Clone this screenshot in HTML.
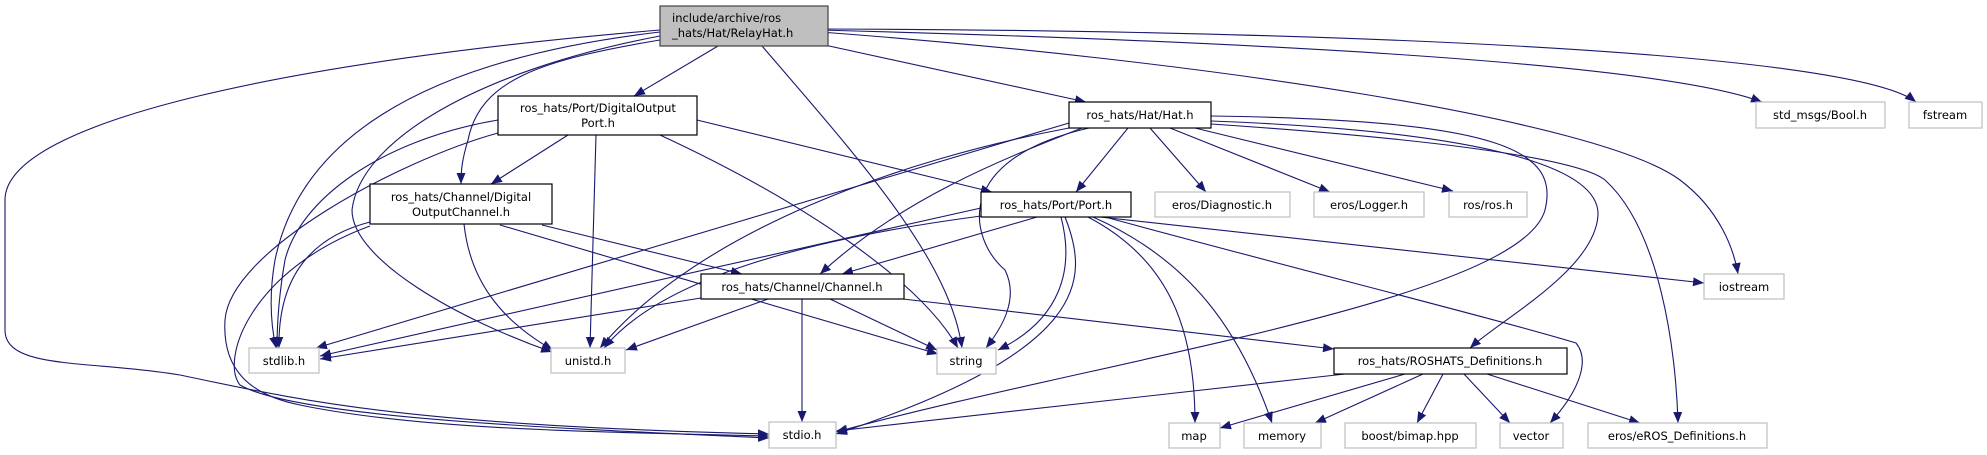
<!DOCTYPE html>
<html><head><meta charset="utf-8"><style>
html,body{margin:0;padding:0;background:#fff;}
svg{display:block}
text{font-family:"DejaVu Sans","Liberation Sans",sans-serif;font-size:11.5px;fill:#000}
.e{fill:none;stroke:#191970;stroke-width:1.1}
.n{fill:#fff;stroke:#000;stroke-width:1.2}
.x{fill:#fff;stroke:#bfbfbf;stroke-width:1.2}
</style></head><body>
<svg width="1987" height="455" viewBox="0 0 1987 455" xmlns="http://www.w3.org/2000/svg">
<defs><marker id="a" markerUnits="userSpaceOnUse" markerWidth="12" markerHeight="10" refX="11" refY="4.5" orient="auto"><path d="M0,0 L11,4.5 L0,9 z" fill="#191970"/></marker></defs>
<g marker-end="url(#a)">
<!-- root edges -->
<path class="e" d="M718,46 L634,96"/>
<path class="e" d="M660,40 C540,60 480,80 468,140 C462,160 461,170 461,184"/>
<path class="e" d="M660,32 C420,60 300,140 275,260 C268,300 272,330 276,348"/>
<path class="e" d="M660,36 C480,70 360,140 352,210 C352,260 460,320 552,352"/>
<path class="e" d="M660,30 C300,60 5,120 5,200 L5,330 C5,370 90,360 180,375 C300,400 400,425 769,434"/>
<path class="e" d="M762,46 C860,160 950,260 962,348"/>
<path class="e" d="M820,44 L1086,102"/>
<path class="e" d="M820,30 C1200,40 1650,60 1762,102"/>
<path class="e" d="M820,29 C1300,30 1850,50 1916,102"/>
<path class="e" d="M820,32 C1200,60 1600,120 1680,180 C1720,210 1734,250 1738,274"/>
<!-- DOP edges -->
<path class="e" d="M568,135 L491,184"/>
<path class="e" d="M596,135 L590,348"/>
<path class="e" d="M498,120 C380,140 300,200 285,260 C278,300 277,330 277,348"/>
<path class="e" d="M498,133 C400,160 230,250 225,320 C222,370 250,395 300,405 C420,430 600,432 769,436"/>
<path class="e" d="M660,135 C800,200 920,280 958,348"/>
<path class="e" d="M697,120 L992,192"/>
<!-- DOC edges -->
<path class="e" d="M370,222 C300,240 278,290 279,348"/>
<path class="e" d="M370,226 C250,270 220,360 240,385 C300,420 600,430 769,438"/>
<path class="e" d="M464,224 C470,280 500,320 553,350"/>
<path class="e" d="M500,225 L938,354"/>
<path class="e" d="M542,225 L742,274"/>
<!-- Hat edges -->
<path class="e" d="M1128,128 L1076,192"/>
<path class="e" d="M1150,128 L1206,192"/>
<path class="e" d="M1170,128 L1330,192"/>
<path class="e" d="M1195,128 L1453,191"/>
<path class="e" d="M1082,128 C1000,160 900,200 820,274"/>
<path class="e" d="M1069,123 L316,348"/>
<path class="e" d="M1069,128 C900,160 700,230 600,348"/>
<path class="e" d="M1089,128 C950,160 970,240 1005,270 C1020,300 1000,330 986,348"/>
<path class="e" d="M1211,116 C1500,120 1560,150 1545,210 C1520,300 1100,360 836,432"/>
<path class="e" d="M1211,121 C1450,130 1600,160 1598,215 C1595,270 1500,320 1470,348"/>
<path class="e" d="M1211,124 C1450,140 1580,160 1605,180 C1660,230 1676,350 1678,423"/>
<!-- Port edges -->
<path class="e" d="M1037,217 L842,274"/>
<path class="e" d="M981,208 L320,356"/>
<path class="e" d="M981,216 C800,240 660,280 604,348"/>
<path class="e" d="M1061,217 C1075,270 1060,320 998,350"/>
<path class="e" d="M1065,217 C1090,280 1090,350 836,434"/>
<path class="e" d="M1088,217 C1170,260 1195,330 1195,423"/>
<path class="e" d="M1093,217 C1190,260 1240,330 1272,423"/>
<path class="e" d="M1100,217 L1704,283"/>
<path class="e" d="M1105,217 C1300,270 1500,320 1576,343 C1590,360 1580,390 1550,423"/>
<!-- Chan edges -->
<path class="e" d="M802,299 L802,422"/>
<path class="e" d="M830,299 L937,350"/>
<path class="e" d="M903,299 L1334,349"/>
<path class="e" d="M701,298 L320,359"/>
<path class="e" d="M768,299 L626,350"/>
<!-- ROSHATS edges -->
<path class="e" d="M1345,374 L836,431"/>
<path class="e" d="M1405,374 L1220,428"/>
<path class="e" d="M1423,374 L1315,423"/>
<path class="e" d="M1443,374 L1417,423"/>
<path class="e" d="M1464,374 L1510,423"/>
<path class="e" d="M1487,374 L1640,423"/>
</g>
<!-- nodes -->
<rect x="660" y="6" width="168" height="40" fill="#bfbfbf" stroke="#404040" stroke-width="1.2"/>
<text x="672" y="22">include/archive/ros</text><text x="672" y="37">_hats/Hat/RelayHat.h</text>
<rect class="n" x="498" y="96" width="199" height="39"/>
<text x="598" y="112" text-anchor="middle">ros_hats/Port/DigitalOutput</text><text x="598" y="127" text-anchor="middle">Port.h</text>
<rect class="n" x="370" y="184" width="182" height="40"/>
<text x="461" y="201" text-anchor="middle">ros_hats/Channel/Digital</text><text x="461" y="216" text-anchor="middle">OutputChannel.h</text>
<g text-anchor="middle">
<rect class="n" x="1069" y="102" width="142" height="26"/><text x="1140" y="119">ros_hats/Hat/Hat.h</text>
<rect class="n" x="981" y="192" width="150" height="25"/><text x="1056" y="209">ros_hats/Port/Port.h</text>
<rect class="x" x="1155" y="192" width="135" height="25"/><text x="1222" y="209">eros/Diagnostic.h</text>
<rect class="x" x="1314" y="192" width="110" height="25"/><text x="1369" y="209">eros/Logger.h</text>
<rect class="x" x="1449" y="192" width="78" height="25"/><text x="1488" y="209">ros/ros.h</text>
<rect class="n" x="701" y="274" width="203" height="25"/><text x="802" y="291">ros_hats/Channel/Channel.h</text>
<rect class="x" x="1704" y="274" width="80" height="25"/><text x="1744" y="291">iostream</text>
<rect class="x" x="249" y="348" width="70" height="25"/><text x="284" y="365">stdlib.h</text>
<rect class="x" x="551" y="348" width="74" height="25"/><text x="588" y="365">unistd.h</text>
<rect class="x" x="937" y="348" width="59" height="26"/><text x="966" y="365">string</text>
<rect class="n" x="1334" y="348" width="233" height="26"/><text x="1450" y="365">ros_hats/ROSHATS_Definitions.h</text>
<rect class="x" x="769" y="422" width="67" height="26"/><text x="802" y="439">stdio.h</text>
<rect class="x" x="1169" y="423" width="51" height="25"/><text x="1194" y="440">map</text>
<rect class="x" x="1244" y="423" width="77" height="25"/><text x="1282" y="440">memory</text>
<rect class="x" x="1345" y="423" width="131" height="25"/><text x="1410" y="440">boost/bimap.hpp</text>
<rect class="x" x="1500" y="423" width="63" height="25"/><text x="1531" y="440">vector</text>
<rect class="x" x="1588" y="423" width="179" height="25"/><text x="1677" y="440">eros/eROS_Definitions.h</text>
<rect class="x" x="1756" y="102" width="129" height="26"/><text x="1820" y="119">std_msgs/Bool.h</text>
<rect class="x" x="1909" y="102" width="73" height="26"/><text x="1945" y="119">fstream</text>
</g>
</svg>
</body></html>
